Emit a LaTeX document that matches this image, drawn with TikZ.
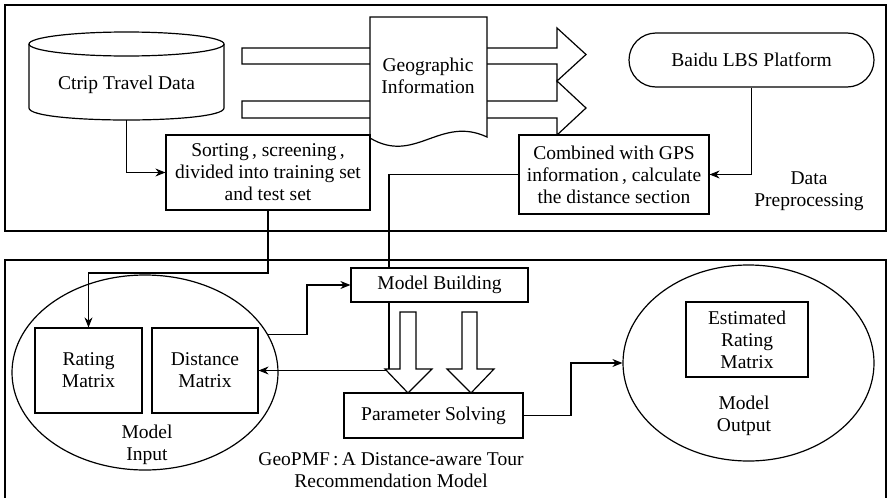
\documentclass[tikz,border=0pt]{standalone}
\usepackage{fontspec}
\setmainfont{Liberation Serif}
\newfontfamily\timesfont{Liberation Serif}
\usetikzlibrary{shapes.geometric,arrows.meta}
\tikzset{
  txt/.style={font=\timesfont\fontsize{19.5}{22}\selectfont, align=center, inner sep=0pt},
  boxnode/.style={txt, draw, fill=white, line width=1.2pt},
  ellnode/.style={ellipse, draw, line width=1.2pt, inner sep=0pt},
  arr/.style={line width=1.2pt, -{Stealth[length=10pt,width=8pt]}},
  ln/.style={line width=1.2pt},
  frame/.style={line width=1.6pt},
}
\begin{document}
\begin{tikzpicture}[x=1pt,y=-1pt]
\clip (0,0) rectangle (889,498);
\fill[white] (0,0) rectangle (889,498);
% frames
\draw[frame] (5,5) rectangle (886,231);
\draw[frame] (5,260) rectangle (886,520);
% cylinder
\node[txt, minimum width=195pt, minimum height=88pt] (ctrip) at (126.5,76) {};
\draw[ln] (29,44) -- (29,108) .. controls (29,124) and (224,124) .. (224,108) -- (224,44);
\draw[ln] (126.5,44) ellipse [x radius=97.5, y radius=12];
\node[txt] (ctriptxt) at (126.5,85) {Ctrip Travel Data};
% thick arrows
\draw[ln, fill=white] (242,48) -- (557,48) -- (557,28) -- (586,54.5) -- (557,81) -- (557,64) -- (242,64) -- cycle;
\draw[ln, fill=white] (242,101) -- (557,101) -- (557,81) -- (586,108) -- (557,135) -- (557,118) -- (242,118) -- cycle;
% document
\draw[ln, fill=white] (370,17) -- (487,17) -- (487,137) .. controls (440,115) and (415,165) .. (370,138) -- cycle;
\node[txt] (geo) at (428,76) {Geographic\\Information};
% boxes top
\node[boxnode, minimum width=204pt, minimum height=75pt] (sort) at (268,172.5) {Sorting\,, screening\,,\\divided into training set\\and test set};
\node[boxnode, minimum width=190pt, minimum height=79pt] (comb) at (614,174.5) {Combined with GPS\\information\,, calculate\\the distance section};
\node[boxnode, rounded corners=27pt, minimum width=245pt, minimum height=54pt] (baidu) at (751.5,60) {Baidu LBS Platform};
\node[txt] (dp) at (809,191) {Data\\Preprocessing};
% bottom section
\node[ellnode, minimum width=266pt, minimum height=195pt] (mi) at (145,372.5) {};
\node[boxnode, minimum width=107pt, minimum height=85pt] (rate) at (88.5,370.5) {Rating\\Matrix};
\node[boxnode, minimum width=106pt, minimum height=85pt] (dist) at (205,370.5) {Distance\\Matrix};
\node[txt] (milab) at (147,445) {Model\\Input};
\node[ellnode, minimum width=251pt, minimum height=196pt] (mo) at (748.5,363) {};
\node[boxnode, minimum width=122pt, minimum height=75pt] (est) at (747,339.5) {Estimated\\Rating\\Matrix};
\node[txt] (molab) at (744,416) {Model\\Output};
\node[txt] (geolab) at (391,470) {GeoPMF\,:\,A Distance-aware Tour\\Recommendation Model};
% connectors
\coordinate (j1) at (389,370.5);
\draw[arr] (comb.west) -| (j1) -- (dist.east);
\node[boxnode, minimum width=177pt, minimum height=34pt] (mb) at (439.5,285) {Model Building};
\node[boxnode, minimum width=179pt, minimum height=45pt] (ps) at (433.5,415.5) {Parameter Solving};
\draw[arr] (ctrip.south) |- (sort.west);
\draw[arr] (baidu.south) |- (comb.east);
\coordinate (k) at (0,273);
\draw[arr] (sort.south) -- (sort.south |- k) -| (rate.north);
\coordinate (j3) at (307,285);
\draw[arr] (mi.17) -| (j3) -- (mb.west);
\coordinate (j4) at (571,363);
\draw[arr] (ps.east) -| (j4) -- (mo.west);
% hollow down arrows
\draw[ln, fill=white] (400,312) -- (416,312) -- (416,369) -- (432,369) -- (408,393) -- (385,369) -- (400,369) -- cycle;
\draw[ln, fill=white] (462,312) -- (477,312) -- (477,369) -- (494,369) -- (471,393) -- (447,369) -- (462,369) -- cycle;
\end{tikzpicture}
\end{document}
